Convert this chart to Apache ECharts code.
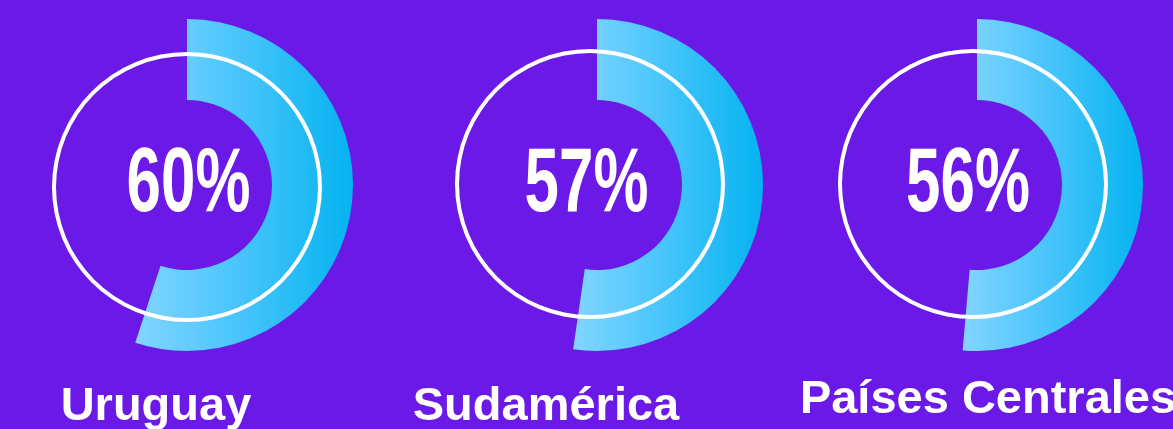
<!DOCTYPE html>
<html>
<head>
<meta charset="utf-8">
<script src="https://cdn.jsdelivr.net/npm/echarts@6/dist/echarts.min.js"></script>
<style>
  html, body { margin: 0; padding: 0; background: #6b19e6; }
  #chart { width: 1173px; height: 429px; }
</style>
</head>
<body>
<div id="chart"></div>
<script>
// ---- data ----
const categories = ['Uruguay', 'Sudamérica', 'Países Centrales'];
const values = [60, 57, 56];

// ---- layout (px) ----
const arcCenters = [[187, 185], [597, 185], [977, 185]];
const ringCenters = [[187, 187], [590, 184], [973, 184]];
const valueCenters = [[188.5, 186], [586.5, 186], [968, 186]];
const nameShift = [[-31, 222], [-51, 222], [11, 215]];
const scaleMax = 109;

const chart = echarts.init(document.getElementById('chart'));
const gradient = {
  type: 'linear', x: 0, y: 0, x2: 1, y2: 0,
  colorStops: [
    { offset: 0, color: '#82d5ff' },
    { offset: 0.5, color: '#45c4fb' },
    { offset: 1, color: '#04b3f0' }
  ]
};

const series = [];
categories.forEach((name, i) => {
  series.push({
    type: 'gauge',
    z: 2,
    center: arcCenters[i],
    radius: 166,
    startAngle: 90,
    endAngle: -270,
    clockwise: true,
    min: 0,
    max: scaleMax,
    axisLine: { show: false },
    axisTick: { show: false },
    splitLine: { show: false },
    axisLabel: { show: false },
    pointer: { show: false },
    anchor: { show: false },
    progress: { show: true, width: 81, roundCap: false, itemStyle: { color: gradient } },
    title: {
      offsetCenter: nameShift[i],
      color: '#ffffff',
      fontFamily: 'Liberation Sans',
      fontWeight: 'bold',
      fontSize: 47
    },
    detail: { show: false },
    data: [{ value: values[i], name: name }]
  });
});
categories.forEach((name, i) => {
  series.push({
    type: 'gauge',
    z: 5,
    center: ringCenters[i],
    radius: 135,
    startAngle: 90,
    endAngle: -270,
    min: 0,
    max: 100,
    axisLine: { show: true, lineStyle: { width: 4, color: [[1, '#ffffff']] } },
    axisTick: { show: false },
    splitLine: { show: false },
    axisLabel: { show: false },
    pointer: { show: false },
    anchor: { show: false },
    progress: { show: false },
    title: { show: false },
    detail: { show: false },
    silent: true,
    data: [{ value: 0, name: '' }]
  });
});

const percentTexts = values.map((v, i) => ({
  type: 'text',
  x: valueCenters[i][0],
  y: valueCenters[i][1],
  scaleX: 0.68,
  z: 10,
  style: {
    text: v + '%',
    fill: '#ffffff',
    font: 'bold 91px "Liberation Sans", Arial, sans-serif',
    align: 'center',
    verticalAlign: 'middle',
    textAlign: 'center',
    textVerticalAlign: 'middle'
  }
}));

chart.setOption({
  backgroundColor: '#6b19e6',
  animation: false,
  series: series,
  graphic: { elements: percentTexts }
});
</script>
</body>
</html>
